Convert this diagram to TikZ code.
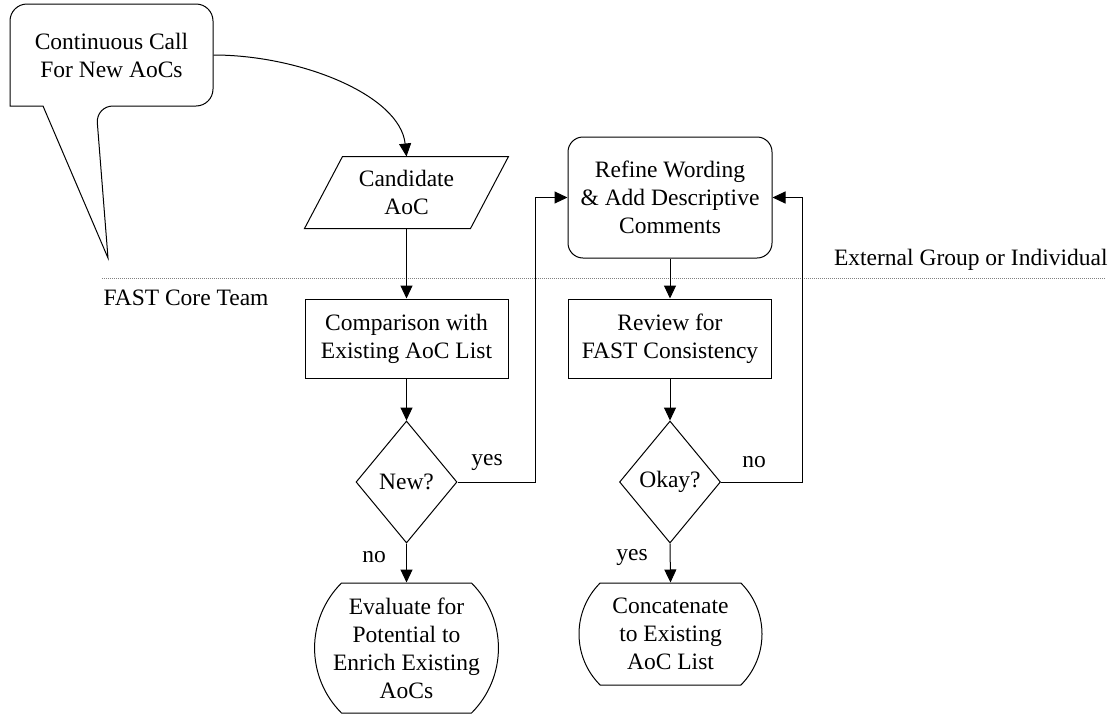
\documentclass[tikz,border=0pt]{standalone}
\usepackage{fontspec}
\setmainfont{Liberation Serif}
\usetikzlibrary{arrows.meta,shapes.geometric,shapes.misc}

\tikzset{
  base/.style={font=\fontsize{23.5}{28}\selectfont, align=center, inner sep=0pt},
  procbox/.style={base, draw, minimum width=203pt, minimum height=79pt},
  softbox/.style={base, draw, rounded corners=15pt, minimum width=204pt, minimum height=121pt},
  decision/.style={base, draw, diamond, minimum width=101pt, minimum height=122pt},
  terminal/.style={base, draw, rounded rectangle, rounded rectangle arc length=90, minimum width=183pt},
  lbl/.style={font=\fontsize{23.5}{28}\selectfont, inner sep=0pt},
  arr/.style={-{Triangle[length=13pt,width=12pt]}},
}

\begin{document}
\begin{tikzpicture}[x=1pt, y=-1pt, line width=1pt]
  \useasboundingbox (0,0) rectangle (1118,715);

  % speech bubble
  \node[base, minimum width=203pt, minimum height=102pt] (call) at (111.5,55) {Continuous Call\\For New AoCs};
  \draw[rounded corners=17pt] (111,4) -- (213,4) -- (213,106) -- (96,106)
    [sharp corners] -- (108,258) -- (43,106) -- (10,106)
    [rounded corners=17pt] -- (10,4) -- cycle;

  % boundary between the two groups
  \draw[gray, line width=1pt, dash pattern=on 1pt off 1pt] (102,278) -- (1106,278);
  \node[lbl, anchor=base east] (ext) at (1108,265) {External Group or Individual};
  \node[lbl, anchor=base west] (core) at (103,305) {FAST Core Team};

  % left column
  \node[base, minimum width=203pt, minimum height=71pt] (cand) at (406.5,192.5) {Candidate\\AoC};
  \draw (cand.south west) -- ([xshift=38pt]cand.north west) -- (cand.north east)
    -- ([xshift=-38pt]cand.south east) -- cycle;
  \node[procbox] (cmp) at (406.5,338.5) {Comparison with\\Existing AoC List};
  \node[decision] (new) at (406.5,482) {New?};
  \node[terminal, minimum height=130pt] (eval) at (406.5,648) {Evaluate for\\Potential to\\Enrich Existing\\AoCs};

  % right column
  \node[softbox] (refine) at (670,197.5) {Refine Wording\\\& Add Descriptive\\Comments};
  \node[procbox] (review) at (670,338.5) {Review for\\FAST Consistency};
  \node[decision] (okay) at (670,482) {Okay?};
  \node[terminal, minimum height=102pt] (concat) at (670.5,634) {Concatenate\\to Existing\\AoC List};

  % connectors
  \draw[arr] (call.east) .. controls (300,55) and (400,95) .. (cand.north);
  \draw[arr] (cand) -- (cmp);
  \draw[arr] (cmp) -- (new);
  \draw[arr] (new.east) -- ++(78,0) |- (refine.west);
  \draw[arr] (new.south) -- (eval.north);
  \draw[arr] (refine) -- (review);
  \draw[arr] (review) -- (okay);
  \draw[arr] (okay.east) -- ++(81,0) |- (refine.east);
  \draw[arr] (okay.south) -- (concat.north);

  % branch labels
  \node[lbl] (lyes1) at (487,462) {yes};
  \node[lbl] (lno1) at (374,557) {no};
  \node[lbl] (lno2) at (754,462) {no};
  \node[lbl] (lyes2) at (632,557) {yes};
\end{tikzpicture}
\end{document}
